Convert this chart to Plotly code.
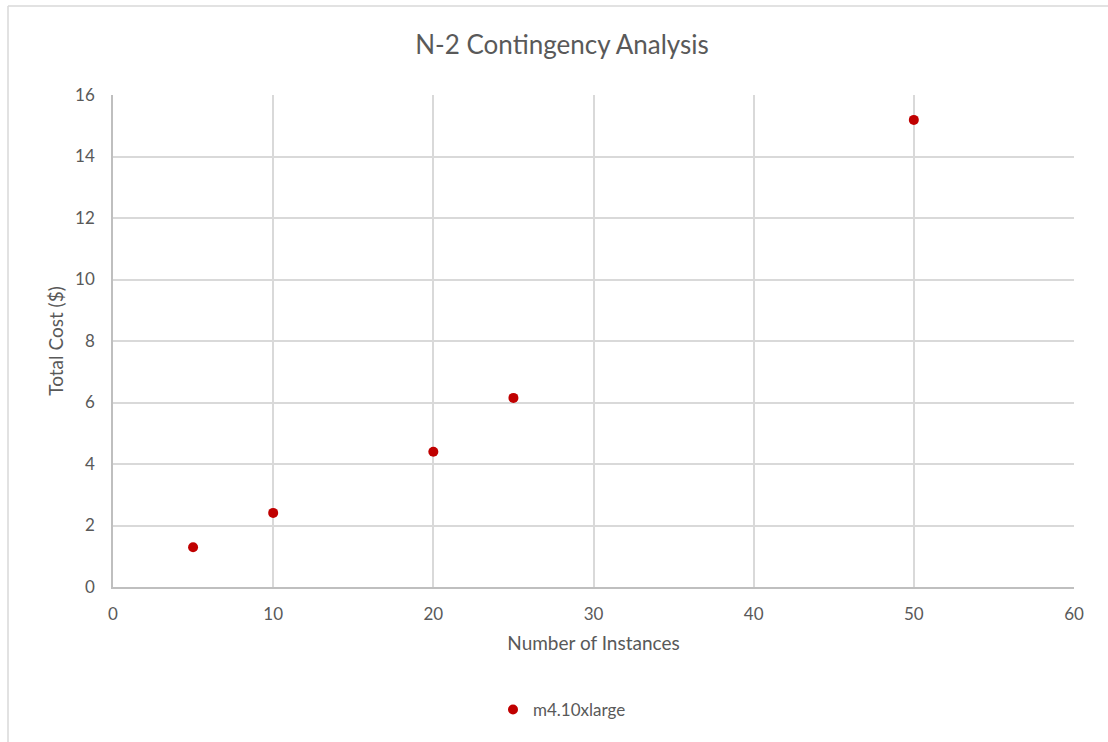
import plotly.graph_objects as go

# Instance count vs. total cost for the N-2 contingency runs
instances = [5, 10, 20, 25, 50]
total_cost = [1.29, 2.41, 4.40, 6.15, 15.19]
series_name = "m4.10xlarge"

W, H = 1108, 742
L, R, T, B = 113, 34, 95, 155
plot_w = W - L - R
plot_h = H - T - B

def px_x(px):
    return (px - L) / plot_w

def px_y(py):
    return (H - B - py) / plot_h

text_color = "#595959"
grid_color = "#d9d9d9"
font_family = "Lato, 'Open Sans', sans-serif"

fig = go.Figure()
fig.add_trace(go.Scatter(
    x=instances,
    y=total_cost,
    mode="markers",
    name=series_name,
    marker=dict(color="#c00000", size=10, line=dict(width=0)),
    showlegend=True,
))

fig.update_layout(
    width=W,
    height=H,
    margin=dict(l=L, r=R, t=T, b=B),
    paper_bgcolor="white",
    plot_bgcolor="white",
    font=dict(family=font_family, color=text_color, size=17),
    title=dict(
        text="N-2 Contingency Analysis",
        xref="container", x=562 / W, xanchor="center",
        yref="container", y=1 - 45 / H, yanchor="middle",
        font=dict(size=26, color=text_color),
    ),
    xaxis=dict(
        range=[0, 60],
        tickvals=[0, 10, 20, 30, 40, 50, 60],
        showgrid=True, gridcolor=grid_color, gridwidth=1.5,
        showline=True, linecolor="#bfbfbf", linewidth=1.5,
        zeroline=False,
        ticks="", ticklabelstandoff=11,
        tickfont=dict(size=17, color=text_color),
        title=dict(text="Number of Instances", standoff=14,
                   font=dict(size=19, color=text_color)),
    ),
    yaxis=dict(
        range=[0, 16],
        tickvals=[0, 2, 4, 6, 8, 10, 12, 14, 16],
        showgrid=True, gridcolor=grid_color, gridwidth=1.5,
        showline=True, linecolor="#bfbfbf", linewidth=1.5,
        zeroline=False,
        ticks="", ticklabelstandoff=13,
        tickfont=dict(size=17, color=text_color),
        title=dict(text="Total Cost ($)", standoff=6,
                   font=dict(size=19, color=text_color)),
    ),
    legend=dict(
        orientation="h",
        x=px_x(493), xanchor="left",
        y=px_y(710), yanchor="middle",
        font=dict(size=17, color=text_color),
        bgcolor="rgba(0,0,0,0)",
        itemwidth=30,
    ),
    shapes=[
        # chart frame (top and left edges)
        dict(type="line", xref="paper", yref="paper",
             x0=px_x(8), x1=px_x(W + 5), y0=px_y(6), y1=px_y(6),
             line=dict(color=grid_color, width=1.5)),
        dict(type="line", xref="paper", yref="paper",
             x0=px_x(8), x1=px_x(8), y0=px_y(6), y1=px_y(H + 5),
             line=dict(color=grid_color, width=1.5)),
    ],
)

fig.write_html("out.html")
